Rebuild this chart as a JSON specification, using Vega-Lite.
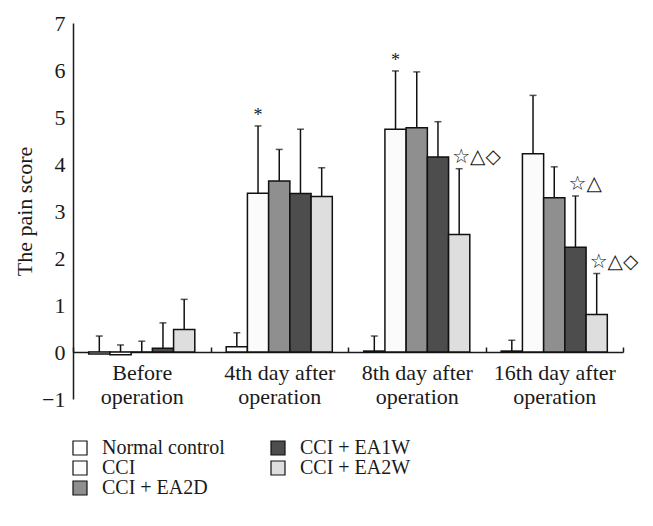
{
  "$schema": "https://vega.github.io/schema/vega-lite/v6.json",
  "width": 550,
  "height": 376,
  "autosize": {"type": "none"},
  "padding": {"left": 73, "top": 23, "right": 30, "bottom": 127},
  "background": "white",
  "config": {
    "view": {"stroke": null},
    "font": "Liberation Serif",
    "axis": {"labelFont": "Liberation Serif", "titleFont": "Liberation Serif", "labelColor": "#1a1a1a", "titleColor": "#1a1a1a", "domainColor": "#1a1a1a", "tickColor": "#1a1a1a"},
    "legend": {"labelFont": "Liberation Serif"}
  },
  "data": {
    "values": [
      {"group": "Before operation", "series": "Normal control", "value": -0.04, "upper": 0.34},
      {"group": "Before operation", "series": "CCI", "value": -0.06, "upper": 0.15},
      {"group": "Before operation", "series": "CCI + EA2D", "value": 0.0, "upper": 0.23},
      {"group": "Before operation", "series": "CCI + EA1W", "value": 0.08, "upper": 0.62},
      {"group": "Before operation", "series": "CCI + EA2W", "value": 0.48, "upper": 1.12},
      {"group": "4th day after operation", "series": "Normal control", "value": 0.11, "upper": 0.41},
      {"group": "4th day after operation", "series": "CCI", "value": 3.38, "upper": 4.81, "star": "*"},
      {"group": "4th day after operation", "series": "CCI + EA2D", "value": 3.64, "upper": 4.31},
      {"group": "4th day after operation", "series": "CCI + EA1W", "value": 3.37, "upper": 4.74},
      {"group": "4th day after operation", "series": "CCI + EA2W", "value": 3.31, "upper": 3.92},
      {"group": "8th day after operation", "series": "Normal control", "value": 0.02, "upper": 0.34},
      {"group": "8th day after operation", "series": "CCI", "value": 4.74, "upper": 5.98, "star": "*"},
      {"group": "8th day after operation", "series": "CCI + EA2D", "value": 4.77, "upper": 5.96},
      {"group": "8th day after operation", "series": "CCI + EA1W", "value": 4.15, "upper": 4.9},
      {"group": "8th day after operation", "series": "CCI + EA2W", "value": 2.5, "upper": 3.9, "ann": "☆△◇"},
      {"group": "16th day after operation", "series": "Normal control", "value": 0.02, "upper": 0.25},
      {"group": "16th day after operation", "series": "CCI", "value": 4.22, "upper": 5.46},
      {"group": "16th day after operation", "series": "CCI + EA2D", "value": 3.28, "upper": 3.94},
      {"group": "16th day after operation", "series": "CCI + EA1W", "value": 2.23, "upper": 3.32, "ann": "☆△"},
      {"group": "16th day after operation", "series": "CCI + EA2W", "value": 0.8, "upper": 1.67, "ann": "☆△◇"}
    ]
  },
  "encoding": {
    "x": {
      "field": "group", "type": "nominal",
      "sort": ["Before operation", "4th day after operation", "8th day after operation", "16th day after operation"],
      "scale": {"paddingInner": 0, "paddingOuter": 0},
      "axis": {
        "title": null, "labelAngle": 0, "offset": -47,
        "domainWidth": 1.5, "tickBand": "extent", "tickSize": -5, "tickWidth": 1.5,
        "labelFontSize": 22, "labelPadding": 15, "labelLineHeight": 24,
        "labelExpr": "datum.label ? [replace(datum.label, ' operation', ''), 'operation'] : ''"
      }
    },
    "xOffset": {
      "field": "series", "type": "nominal",
      "sort": ["Normal control", "CCI", "CCI + EA2D", "CCI + EA1W", "CCI + EA2W"],
      "scale": {"paddingInner": 0, "paddingOuter": 0.74}
    }
  },
  "layer": [
    {
      "mark": {"type": "rule", "stroke": "#111", "strokeWidth": 1.5},
      "encoding": {
        "y": {"field": "value", "type": "quantitative"},
        "y2": {"field": "upper"}
      }
    },
    {
      "mark": {"type": "tick", "orient": "horizontal", "size": 7, "thickness": 1.5, "color": "#111"},
      "encoding": {
        "y": {"field": "upper", "type": "quantitative"}
      }
    },
    {
      "mark": {"type": "bar", "stroke": "#111", "strokeWidth": 1.5},
      "encoding": {
        "y": {
          "field": "value", "type": "quantitative",
          "scale": {"domain": [-1, 7], "nice": false, "zero": false},
          "axis": {
            "title": "The pain score", "titleFontSize": 22, "titleFontWeight": "normal", "titlePadding": 5,
            "values": [-1, 0, 1, 2, 3, 4, 5, 6, 7], "ticks": false, "grid": false,
            "labelFontSize": 22, "labelPadding": 8, "domainWidth": 1.5
          }
        },
        "y2": {"datum": 0},
        "fill": {
          "field": "series", "type": "nominal",
          "scale": {
            "domain": ["Normal control", "CCI", "CCI + EA2D", "CCI + EA1W", "CCI + EA2W"],
            "range": ["#ffffff", "#fbfbfb", "#8f8f8f", "#4d4d4d", "#dedede"]
          },
          "legend": {
            "title": null, "orient": "none", "legendX": -3, "legendY": 415,
            "columns": 2, "columnPadding": 43, "rowPadding": 0,
            "symbolType": "square", "symbolSize": 196, "symbolStrokeColor": "#111", "symbolStrokeWidth": 1.2,
            "labelFontSize": 20, "labelOffset": 12, "labelColor": "#1a1a1a", "labelLimit": 300
          }
        }
      }
    },
    {
      "transform": [{"filter": "datum.ann != null"}],
      "mark": {"type": "text", "align": "left", "baseline": "middle", "dx": -7, "dy": -12, "font": "DejaVu Sans", "fontSize": 20, "color": "#1a1a1a"},
      "encoding": {
        "y": {"field": "upper", "type": "quantitative"},
        "text": {"field": "ann"}
      }
    },
    {
      "transform": [{"filter": "datum.star != null"}],
      "mark": {"type": "text", "align": "center", "baseline": "middle", "dy": -10, "fontSize": 18, "color": "#1a1a1a"},
      "encoding": {
        "y": {"field": "upper", "type": "quantitative"},
        "text": {"field": "star"}
      }
    }
  ]
}
